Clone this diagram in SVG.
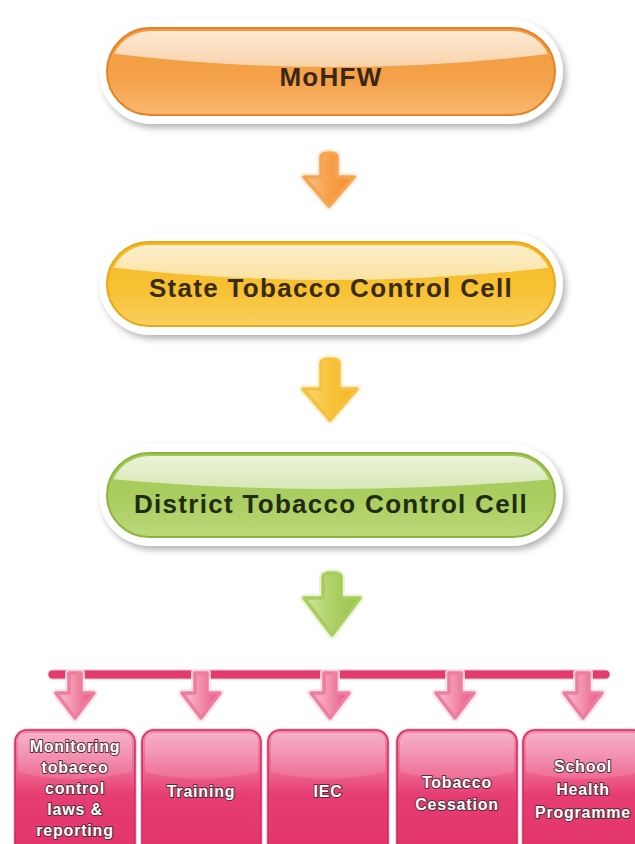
<svg xmlns="http://www.w3.org/2000/svg" width="635" height="844" viewBox="0 0 635 844">
<defs>
<style>
.halo{fill:#ffffff;filter:url(#sh);}
.ptxt{font-family:"Liberation Sans",Arial,sans-serif;font-weight:bold;font-size:26px;letter-spacing:1.3px;text-anchor:middle;}
.btxt{font-family:"Liberation Sans",Arial,sans-serif;font-weight:bold;font-size:16px;letter-spacing:0.8px;text-anchor:middle;fill:#ffffff;stroke:#5c2b3a;stroke-width:2px;paint-order:stroke;stroke-linejoin:round;}
.box{fill:url(#gPink);stroke:#c92a5c;stroke-width:1.5;}
.boxhalo{fill:none;stroke:#f9d3de;stroke-width:4;}
.gloss{fill:url(#gGloss);}
.aglow{fill:none;stroke-width:8;stroke-linejoin:round;opacity:0.85;}
.arr{stroke-width:3.5;stroke-linejoin:round;}
</style>
<filter id="sh" x="-10%" y="-30%" width="120%" height="160%">
<feDropShadow dx="3" dy="4" stdDeviation="3" flood-color="#7a7a7a" flood-opacity="0.55"/>
</filter>
<linearGradient id="gOrange" x1="0" y1="0" x2="0" y2="1">
<stop offset="0" stop-color="#f39a3c"/><stop offset="0.6" stop-color="#f4a24a"/><stop offset="1" stop-color="#f8b86e"/>
</linearGradient>
<linearGradient id="gYellow" x1="0" y1="0" x2="0" y2="1">
<stop offset="0" stop-color="#f5b822"/><stop offset="0.6" stop-color="#f7c235"/><stop offset="1" stop-color="#f9d060"/>
</linearGradient>
<linearGradient id="gGreen" x1="0" y1="0" x2="0" y2="1">
<stop offset="0" stop-color="#a3c856"/><stop offset="0.6" stop-color="#acce62"/><stop offset="1" stop-color="#bcd97a"/>
</linearGradient>
<linearGradient id="gHi" x1="0" y1="0" x2="0" y2="1">
<stop offset="0" stop-color="#ffffff" stop-opacity="0.85"/><stop offset="1" stop-color="#ffffff" stop-opacity="0.55"/>
</linearGradient>
<linearGradient id="gPink" x1="0" y1="0" x2="0" y2="1">
<stop offset="0" stop-color="#f289aa"/><stop offset="0.35" stop-color="#ec5f8b"/><stop offset="0.5" stop-color="#e63d72"/><stop offset="1" stop-color="#e2336a"/>
</linearGradient>
<linearGradient id="gGloss" x1="0" y1="0" x2="0" y2="1">
<stop offset="0" stop-color="#ffffff" stop-opacity="0.35"/><stop offset="1" stop-color="#ffffff" stop-opacity="0.1"/>
</linearGradient>
<linearGradient id="aOrange" x1="0" y1="0" x2="1" y2="0">
<stop offset="0" stop-color="#fbc48a"/><stop offset="0.5" stop-color="#f6a04a"/><stop offset="1" stop-color="#f28c2e"/>
</linearGradient>
<linearGradient id="aYellow" x1="0" y1="0" x2="1" y2="0">
<stop offset="0" stop-color="#fbd77a"/><stop offset="0.5" stop-color="#f8c43a"/><stop offset="1" stop-color="#f4b420"/>
</linearGradient>
<linearGradient id="aGreen" x1="0" y1="0" x2="1" y2="0">
<stop offset="0" stop-color="#d3e7a0"/><stop offset="0.5" stop-color="#aed066"/><stop offset="1" stop-color="#98c24a"/>
</linearGradient>
<linearGradient id="aPink" x1="0" y1="0" x2="1" y2="0">
<stop offset="0" stop-color="#fbc2d2"/><stop offset="0.5" stop-color="#f28fac"/><stop offset="1" stop-color="#e5527e"/>
</linearGradient>
<clipPath id="c1"><rect x="110" y="31" width="442" height="81" rx="40.5"/></clipPath>
<clipPath id="c2"><rect x="110" y="245" width="442" height="78" rx="39"/></clipPath>
<clipPath id="c3"><rect x="110" y="456" width="442" height="78" rx="39"/></clipPath>
</defs>
<rect width="635" height="844" fill="#ffffff"/>

<g id="node-mohfw">
<rect class="halo" x="99" y="19" width="464" height="105" rx="52.5"/>
<rect x="107" y="28" width="448" height="87" rx="43.5" fill="url(#gOrange)" stroke="#e4822a" stroke-width="2"/>
<path clip-path="url(#c1)" d="M100,20 H565 V52 Q331,82 100,52 Z" fill="url(#gHi)"/>
<text class="ptxt" x="331" y="86" fill="#3b2814">MoHFW</text>
</g>

<g id="node-state">
<rect class="halo" x="99" y="233" width="464" height="102" rx="51"/>
<rect x="107" y="242" width="448" height="84" rx="42" fill="url(#gYellow)" stroke="#e9a818" stroke-width="2"/>
<path clip-path="url(#c2)" d="M100,235 H565 V266 Q331,294 100,266 Z" fill="url(#gHi)"/>
<text class="ptxt" x="331" y="297" fill="#3a2a10">State Tobacco Control Cell</text>
</g>

<g id="node-district">
<rect class="halo" x="99" y="444" width="464" height="102" rx="51"/>
<rect x="107" y="453" width="448" height="84" rx="42" fill="url(#gGreen)" stroke="#8db53c" stroke-width="2"/>
<path clip-path="url(#c3)" d="M100,446 H565 V478 Q331,500 100,478 Z" fill="url(#gHi)"/>
<text class="ptxt" x="331" y="513" fill="#1f2c10">District Tobacco Control Cell</text>
</g>

<g id="connectors">
<path class="aglow" stroke="#fde6d0" d="M321,177 L321,157 Q321,153 329,153 Q337,153 337,157 L337,177 L354,177 L329,206 L304,177 Z"/>
<path class="arr" fill="url(#aOrange)" stroke="#f5a550" d="M321,177 L321,157 Q321,153 329,153 Q337,153 337,157 L337,177 L354,177 L329,206 L304,177 Z"/>
<path class="aglow" stroke="#fdf0c8" d="M321,389 L321,363 Q321,359 330,359 Q339,359 339,363 L339,389 L357,389 L330,420 L303,389 Z"/>
<path class="arr" fill="url(#aYellow)" stroke="#f6c140" d="M321,389 L321,363 Q321,359 330,359 Q339,359 339,363 L339,389 L357,389 L330,420 L303,389 Z"/>
<path class="aglow" stroke="#e8f2d0" d="M323,598 L323,577 Q323,573 332,573 Q341,573 341,577 L341,598 L360,598 L332,635 L304,598 Z"/>
<path class="arr" fill="url(#aGreen)" stroke="#a8cc5e" d="M323,598 L323,577 Q323,573 332,573 Q341,573 341,577 L341,598 L360,598 L332,635 L304,598 Z"/>

<rect x="48" y="670" width="562" height="9" rx="4.5" fill="#e23c6e" stroke="#f7b7c9" stroke-width="1"/>

<g>
<path class="aglow" stroke="#fbe0e8" d="M69,693 L69,673 L81,673 L81,693 L94,693 L75,718 L56,693 Z"/>
<path class="arr" fill="url(#aPink)" stroke="#ee7ea0" d="M69,693 L69,673 L81,673 L81,693 L94,693 L75,718 L56,693 Z"/>
<path class="aglow" stroke="#fbe0e8" d="M195,693 L195,673 L207,673 L207,693 L220,693 L201,718 L182,693 Z"/>
<path class="arr" fill="url(#aPink)" stroke="#ee7ea0" d="M195,693 L195,673 L207,673 L207,693 L220,693 L201,718 L182,693 Z"/>
<path class="aglow" stroke="#fbe0e8" d="M324,693 L324,673 L336,673 L336,693 L349,693 L330,718 L311,693 Z"/>
<path class="arr" fill="url(#aPink)" stroke="#ee7ea0" d="M324,693 L324,673 L336,673 L336,693 L349,693 L330,718 L311,693 Z"/>
<path class="aglow" stroke="#fbe0e8" d="M449,693 L449,673 L461,673 L461,693 L474,693 L455,718 L436,693 Z"/>
<path class="arr" fill="url(#aPink)" stroke="#ee7ea0" d="M449,693 L449,673 L461,673 L461,693 L474,693 L455,718 L436,693 Z"/>
<path class="aglow" stroke="#fbe0e8" d="M577,693 L577,673 L589,673 L589,693 L602,693 L583,718 L564,693 Z"/>
<path class="arr" fill="url(#aPink)" stroke="#ee7ea0" d="M577,693 L577,673 L589,673 L589,693 L602,693 L583,718 L564,693 Z"/>
</g>
</g>

<g id="node-monitoring">
<rect class="boxhalo" x="15" y="730" width="120" height="130" rx="12"/>
<rect class="box" x="15" y="730" width="120" height="130" rx="12"/>
<path class="gloss" d="M18,742 Q18,733 27,733 H123 Q132,733 132,742 V772 Q75,786 18,772 Z"/>
<text class="btxt" x="75" y="752">Monitoring</text>
<text class="btxt" x="75" y="773">tobacco</text>
<text class="btxt" x="75" y="794">control</text>
<text class="btxt" x="75" y="815">laws &amp;</text>
<text class="btxt" x="75" y="836">reporting</text>
</g>

<g id="node-training">
<rect class="boxhalo" x="142" y="730" width="119" height="130" rx="12"/>
<rect class="box" x="142" y="730" width="119" height="130" rx="12"/>
<path class="gloss" d="M145,742 Q145,733 154,733 H249 Q258,733 258,742 V772 Q201,786 145,772 Z"/>
<text class="btxt" x="201" y="797">Training</text>
</g>

<g id="node-iec">
<rect class="boxhalo" x="268" y="730" width="120" height="130" rx="12"/>
<rect class="box" x="268" y="730" width="120" height="130" rx="12"/>
<path class="gloss" d="M271,742 Q271,733 280,733 H376 Q385,733 385,742 V772 Q328,786 271,772 Z"/>
<text class="btxt" x="328" y="797">IEC</text>
</g>

<g id="node-cessation">
<rect class="boxhalo" x="397" y="730" width="120" height="130" rx="12"/>
<rect class="box" x="397" y="730" width="120" height="130" rx="12"/>
<path class="gloss" d="M400,742 Q400,733 409,733 H505 Q514,733 514,742 V772 Q457,786 400,772 Z"/>
<text class="btxt" x="457" y="788">Tobacco</text>
<text class="btxt" x="457" y="810">Cessation</text>
</g>

<g id="node-school">
<rect class="boxhalo" x="523" y="730" width="122" height="130" rx="12"/>
<rect class="box" x="523" y="730" width="122" height="130" rx="12"/>
<path class="gloss" d="M526,742 Q526,733 535,733 H633 Q642,733 642,742 V772 Q584,786 526,772 Z"/>
<text class="btxt" x="583" y="772">School</text>
<text class="btxt" x="583" y="795">Health</text>
<text class="btxt" x="583" y="818">Programme</text>
</g>
</svg>
